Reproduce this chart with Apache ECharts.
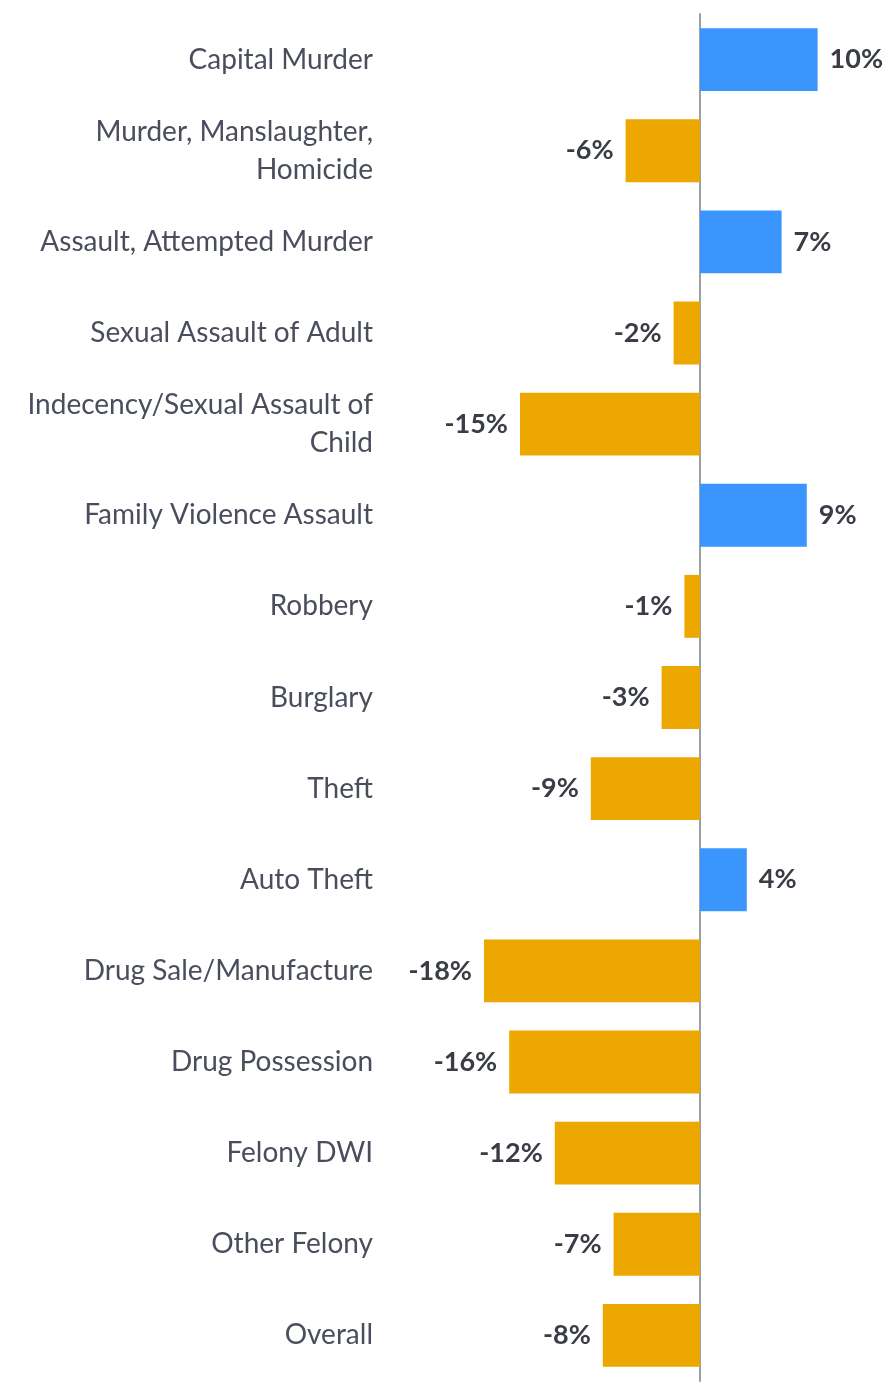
<!DOCTYPE html>
<html>
<head>
<meta charset="utf-8">
<script src="https://cdn.jsdelivr.net/npm/echarts@6/dist/echarts.min.js"></script>
<style>
html,body{margin:0;padding:0;background:#fff;}
#chart{width:887px;height:1386px;}
</style>
</head>
<body>
<div id="chart"></div>
<script>
const categories = [
  "Capital Murder",
  "Murder, Manslaughter,\nHomicide",
  "Assault, Attempted Murder",
  "Sexual Assault of Adult",
  "Indecency/Sexual Assault of\nChild",
  "Family Violence Assault",
  "Robbery",
  "Burglary",
  "Theft",
  "Auto Theft",
  "Drug Sale/Manufacture",
  "Drug Possession",
  "Felony DWI",
  "Other Felony",
  "Overall"
];
const changePct = [9.8, -6.2, 6.8, -2.2, -15.0, 8.9, -1.3, -3.2, -9.1, 3.9, -18.0, -15.9, -12.1, -7.2, -8.1];

const POS_COLOR = '#3a96fd';
const NEG_COLOR = '#eca800';
const FONT = 'Lato, sans-serif';

const chart = echarts.init(document.getElementById('chart'), null, {renderer: 'canvas'});
chart.setOption({
  animation: false,
  grid: {left: 460, right: 7, top: 14, bottom: 5, containLabel: false, outerBoundsMode: 'none'},
  xAxis: {
    type: 'value', min: -20, max: 15, interval: 5,
    show: false
  },
  yAxis: {
    type: 'category',
    data: categories,
    inverse: true,
    axisTick: {show: false},
    axisLine: {show: true, onZero: true, lineStyle: {color: '#9aa0a8', width: 2}},
    axisLabel: {
      margin: 87,
      fontFamily: FONT,
      fontSize: 28,
      lineHeight: 38,
      color: '#4a4d5c',
      align: 'right'
    }
  },
  series: [{
    type: 'bar',
    data: changePct.map(v => ({
      value: v,
      itemStyle: {color: v >= 0 ? POS_COLOR : NEG_COLOR},
      label: {position: v >= 0 ? 'right' : 'left'}
    })),
    barCategoryGap: '31%',
    label: {
      show: true,
      distance: 12,
      fontFamily: FONT,
      fontWeight: 'bold',
      fontSize: 27,
      color: '#3a3d45',
      formatter: p => Math.round(p.value) + '%'
    }
  }]
});
</script>
</body>
</html>
